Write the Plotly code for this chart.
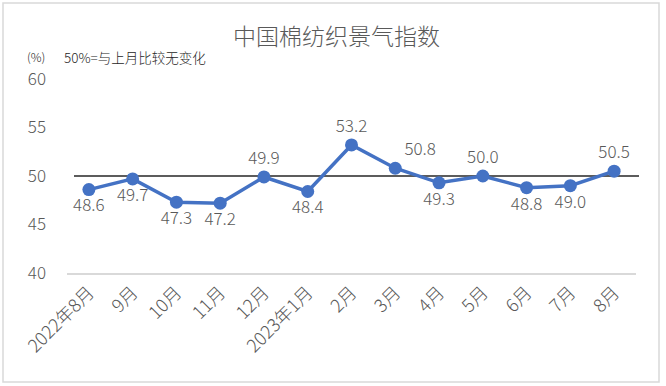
import plotly.graph_objects as go

months = ["2022年8月", "9月", "10月", "11月", "12月", "2023年1月", "2月", "3月", "4月", "5月", "6月", "7月", "8月"]
values = [48.6, 49.7, 47.3, 47.2, 49.9, 48.4, 53.2, 50.8, 49.3, 50.0, 48.8, 49.0, 50.5]
label_pos = ["bottom center", "bottom center", "bottom center", "bottom center", "top center", "bottom center",
             "top center", "top right", "bottom center", "top center", "bottom center", "bottom center", "top center"]
y_ticks = [40, 45, 50, 55, 60]
title_text = "中国棉纺织景气指数"
unit_text = "(%)"
note_text = "50%=与上月比较无变化"
ref_level = 50

FONT = "Noto Sans CJK SC, Microsoft YaHei, sans-serif"
GRAY = "#595959"
WT = 300

W, H = 666, 386
L, R, T, B = 67, 30, 79, 113
pw, ph = W - L - R, H - T - B

def px_x(p):
    return (p - L) / pw

def px_y(p):
    return (H - B - p) / ph

fig = go.Figure()
fig.add_trace(go.Scatter(
    x=months, y=values, mode="lines+markers+text",
    line=dict(color="#4472C4", width=3.5),
    marker=dict(color="#4472C4", size=13),
    text=[f"{v:.1f}" for v in values],
    textposition=label_pos,
    textfont=dict(family=FONT, size=17, color=GRAY, weight=WT),
    cliponaxis=False,
    hoverinfo="skip",
))

fig.update_layout(
    width=W, height=H,
    margin=dict(l=L, r=R, t=T, b=B, autoexpand=False),
    paper_bgcolor="white", plot_bgcolor="white",
    showlegend=False,
    font=dict(family=FONT, color=GRAY, weight=WT),
    xaxis=dict(
        type="category", tickangle=-45, automargin=False,
        range=[-0.5, len(months) - 0.5],
        tickfont=dict(family=FONT, size=18, color=GRAY, weight=WT),
        showgrid=False, showline=True, linecolor="#d9d9d9", linewidth=2,
        ticks="", zeroline=False,
    ),
    yaxis=dict(
        range=[40, 60], tickvals=y_ticks, automargin=False,
        tickfont=dict(family=FONT, size=17, color=GRAY, weight=WT),
        showgrid=False, zeroline=False, showline=False, ticks="",
        ticklabelstandoff=20,
    ),
    shapes=[
        dict(type="line", xref="paper", yref="y", x0=px_x(74), x1=px_x(639), y0=ref_level, y1=ref_level,
             line=dict(color="#262626", width=1.3), layer="below"),
        dict(type="rect", xref="paper", yref="paper", x0=px_x(3), x1=px_x(659), y0=px_y(382), y1=px_y(3),
             line=dict(color="#d9d9d9", width=1.5), fillcolor="rgba(0,0,0,0)"),
    ],
    annotations=[
        dict(text=title_text, xref="paper", yref="paper", x=px_x(336), y=px_y(35), showarrow=False,
             font=dict(family=FONT, size=23, color=GRAY, weight=WT), xanchor="center", yanchor="middle"),
        dict(text=unit_text, xref="paper", yref="paper", x=px_x(25), y=px_y(57), showarrow=False,
             font=dict(family=FONT, size=12, color="#262626", weight=WT), xanchor="left", yanchor="middle"),
        dict(text=note_text, xref="paper", yref="paper", x=px_x(62), y=px_y(57), showarrow=False,
             font=dict(family=FONT, size=13.5, color="#262626", weight=WT), xanchor="left", yanchor="middle"),
    ],
)

fig.write_html("out.html", config={"displayModeBar": False},
               post_script="document.body.style.margin='0';")
